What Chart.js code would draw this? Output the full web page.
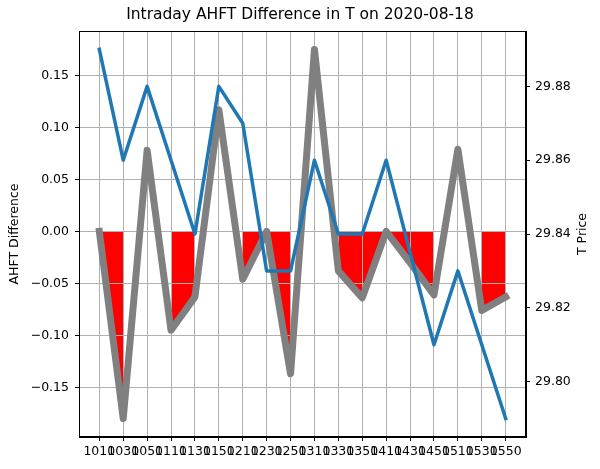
<!DOCTYPE html>
<html>
<head>
<meta charset="utf-8">
<script src="https://cdn.jsdelivr.net/npm/chart.js@4.4.1/dist/chart.umd.min.js"></script>
<style>
  html, body { margin: 0; padding: 0; background: #ffffff; }
  canvas { display: block; }
</style>
</head>
<body>
<canvas id="c" width="600" height="469"></canvas>
<script>
// ---- data ----
const times = ['1010','1030','1050','1110','1130','1150','1210','1230','1250','1310','1330','1350','1410','1430','1450','1510','1530','1550'];
const ahftDiff = [0.0, -0.18, 0.078, -0.095, -0.063, 0.117, -0.046, 0.0, -0.137, 0.175, -0.038, -0.064, 0.0, -0.03, -0.061, 0.079, -0.076, -0.063];
const tPrice = [29.89, 29.86, 29.88, 29.86, 29.84, 29.88, 29.87, 29.83, 29.83, 29.86, 29.84, 29.84, 29.86, 29.835, 29.81, 29.83, 29.81, 29.79];
const leftTicks = [-0.15, -0.10, -0.05, 0.00, 0.05, 0.10, 0.15];
const rightTicks = [29.80, 29.82, 29.84, 29.86, 29.88];

const titleText = 'Intraday AHFT Difference in T on 2020-08-18';
const leftTitle = 'AHFT Difference';
const rightTitle = 'T Price';

// ---- derived tables ----
const diffPts = ahftDiff.map((v, i) => ({x: i, y: v}));
const pricePts = tPrice.map((v, i) => ({x: i, y: v}));
// fill only between consecutive non-positive points (like fill_between with where)
const negPts = ahftDiff.map((v, i) => ({x: i, y: v <= 0 ? v : null}));

const FONT = 'DejaVu Sans';
Chart.defaults.font.family = FONT;
Chart.defaults.color = '#000';

const pad = (lo, hi) => { const r = hi - lo; return [lo - 0.05 * r, hi + 0.05 * r]; };
const [yMin, yMax] = pad(Math.min(...ahftDiff), Math.max(...ahftDiff));
const [pMin, pMax] = pad(Math.min(...tPrice), Math.max(...tPrice));
const [xMin, xMax] = pad(0, times.length - 1);

const framePlugin = {
  id: 'frame',
  afterDraw(chart) {
    const {ctx, chartArea: a} = chart;
    ctx.save();
    ctx.strokeStyle = '#000';
    ctx.lineWidth = 1;
    ctx.strokeRect(Math.round(a.left) + 0.5, Math.round(a.top) + 0.5,
                   Math.round(a.right - a.left) - 1, Math.round(a.bottom - a.top) - 1);
    // right axis title, reading bottom-to-top
    ctx.fillStyle = '#000';
    ctx.font = '12.5px "' + FONT + '"';
    ctx.textAlign = 'center';
    ctx.textBaseline = 'middle';
    ctx.translate(583, (a.top + a.bottom) / 2);
    ctx.rotate(-Math.PI / 2);
    ctx.fillText(rightTitle, 0, 0);
    ctx.restore();
  }
};

const minus = v => (v < 0 ? '\u2212' : '') + Math.abs(v).toFixed(2);

new Chart(document.getElementById('c'), {
  type: 'line',
  data: {
    datasets: [
      { data: pricePts, yAxisID: 'y2', borderColor: '#1f77b4', borderWidth: 3.5,
        pointRadius: 0, fill: false, tension: 0, order: 0,
        borderJoinStyle: 'round', borderCapStyle: 'square' },
      { data: diffPts, yAxisID: 'y', borderColor: '#808080', borderWidth: 7,
        pointRadius: 0, fill: false, tension: 0, order: 1,
        borderJoinStyle: 'round', borderCapStyle: 'square' },
      { data: negPts, yAxisID: 'y', borderWidth: 0, borderColor: 'rgba(0,0,0,0)',
        backgroundColor: '#ff0000', pointRadius: 0, fill: 'origin', spanGaps: false,
        tension: 0, order: 2 }
    ]
  },
  options: {
    responsive: false,
    animation: false,
    devicePixelRatio: 1,
    layout: { padding: 0 },
    plugins: {
      legend: { display: false },
      tooltip: { enabled: false },
      filler: { drawTime: 'beforeDraw' },
      title: {
        display: true, text: titleText, color: '#000',
        font: { size: 15.5, weight: 'normal', family: FONT, lineHeight: 1.2 },
        padding: { top: 6, bottom: 6.4 }
      }
    },
    scales: {
      x: {
        type: 'linear', min: xMin, max: xMax,
        afterBuildTicks: s => { s.ticks = times.map((_, i) => ({value: i})); },
        afterFit: s => { s.height = 32; },
        ticks: {
          autoSkip: false, maxRotation: 0, minRotation: 0, padding: 3,
          font: { size: 12.5 }, color: '#000',
          callback: v => times[v] !== undefined ? times[v] : ''
        },
        grid: { color: '#b0b0b0', lineWidth: 1, tickLength: 4, tickColor: '#000', drawOnChartArea: true },
        border: { display: true, color: '#000', width: 1 }
      },
      y: {
        position: 'left', min: yMin, max: yMax,
        afterBuildTicks: s => { s.ticks = leftTicks.map(v => ({value: v})); },
        afterFit: s => { s.width = 79; },
        ticks: { padding: 6, font: { size: 12.5 }, color: '#000', callback: v => minus(v) },
        grid: { color: '#b0b0b0', lineWidth: 1, tickLength: 4, tickColor: '#000' },
        border: { display: true, color: '#000', width: 1 },
        title: { display: true, text: leftTitle, color: '#000',
                 font: { size: 12.5, lineHeight: 1.2 }, padding: { top: 7.5, bottom: 0 } }
      },
      y2: {
        position: 'right', min: pMin, max: pMax,
        afterBuildTicks: s => { s.ticks = rightTicks.map(v => ({value: v})); },
        afterFit: s => { s.width = 74; },
        ticks: { padding: 5, font: { size: 12.5 }, color: '#000', callback: v => v.toFixed(2) },
        grid: { drawOnChartArea: false, tickLength: 4, tickColor: '#000', color: '#000' },
        border: { display: true, color: '#000', width: 1 }
      }
    }
  },
  plugins: [framePlugin]
});
</script>
</body>
</html>
